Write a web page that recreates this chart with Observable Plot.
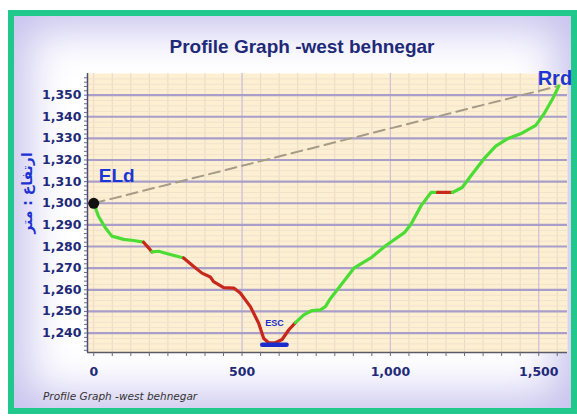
<!DOCTYPE html>
<html>
<head>
<meta charset="utf-8">
<script src="https://cdn.jsdelivr.net/npm/d3@7"></script>
<script src="https://cdn.jsdelivr.net/npm/@observablehq/plot@0.6"></script>
<style>
  html, body { margin: 0; padding: 0; background: #ffffff; }
  #page { position: relative; width: 577px; height: 419px; overflow: hidden; background: #ffffff; }
  #frame { position: absolute; left: 8px; top: 10px; width: 569px; height: 404px; box-sizing: border-box;
           border: 6px solid #20c98b; background: #ffffff;
           box-shadow: inset 0 0 44px 14px #c6c1ed; }
  #chart { position: absolute; left: 0; top: 0; }
  #title { position: absolute; left: 0; width: 604px; top: 36px; text-align: center;
           font: bold 19px "Liberation Sans", Arial, sans-serif; color: #1e2a78; }
  #caption { position: absolute; left: 43px; top: 390px;
             font: italic 10.5px "DejaVu Sans", Verdana, sans-serif; color: #333333; }
  #ytitle { position: absolute; left: 27px; top: 193px; transform: translate(-50%, -50%) rotate(-90deg);
            white-space: nowrap; font: bold 14px "DejaVu Sans", sans-serif; color: #1d30d0; }
</style>
</head>
<body>
<div id="page">
  <div id="frame"></div>
  <div id="chart"></div>
  <div id="title">Profile Graph -west behnegar</div>
  <div id="ytitle" dir="rtl">ارتفاع : متر</div>
  <div id="caption">Profile Graph -west behnegar</div>
</div>
<script>
// ---- data ----
const distance = [0,16,39,61,101,134,168,185,196,219,258,303,337,365,393,404,438,472,494,528,556,573,590,612,635,657,680,708,736,764,781,798,821,877,934,985,1047,1069,1103,1137,1159,1209,1242,1276,1315,1355,1394,1439,1490,1518,1546,1568];
const elevation = [1300,1294,1288.7,1284.8,1283.3,1282.8,1282,1279.4,1277.5,1277.8,1276.3,1274.7,1270.8,1267.7,1265.9,1263.8,1261,1260.8,1258.5,1252.2,1244.5,1237.5,1235.5,1235.5,1237,1241.4,1244.8,1248.4,1250.4,1250.7,1252.2,1256,1260,1270,1274.7,1280.5,1286.4,1290.2,1298.8,1305,1305,1305,1307.3,1313.5,1320.5,1326.4,1329.8,1332.1,1336,1341.4,1348.1,1354.3];
const steepRanges = [[168,196],[303,680],[1159,1209]];
const escZone = [568, 650];
const escElevation = 1234.6;
const xTicks = [0, 500, 1000, 1500];
const yTicks = [1240,1250,1260,1270,1280,1290,1300,1310,1320,1330,1340,1350];
const endLabels = ["ELd", "Rrd"];
const escLabel = "ESC";

const xDomain = [-21, 1597];
const yDomain = [1231, 1360];

const GREEN = "#4cdc36", RED = "#c8281c", NAVY = "#1f2a78", BLUE = "#1b36d4";

// build colored runs
const rows = [];
let seg = -1, prevSteep = null;
for (let i = 0; i < distance.length - 1; i++) {
  const steep = steepRanges.some(([a, b]) => distance[i] >= a && distance[i + 1] <= b);
  if (steep !== prevSteep) {
    seg++;
    rows.push({d: distance[i], e: elevation[i], seg, color: steep ? RED : GREEN});
    prevSteep = steep;
  }
  rows.push({d: distance[i + 1], e: elevation[i + 1], seg, color: steep ? RED : GREEN});
}
const n = distance.length;
const startPt = {d: distance[0], e: elevation[0]};
const endPt = {d: distance[n - 1], e: elevation[n - 1]};

const minorX = d3.range(0, xDomain[1], 62.5);
const minorY = d3.range(1232.5, yDomain[1], 2.5).filter(v => Math.abs(v % 10) > 0.01);
const fmt = d3.format(",");

const chart = Plot.plot({
  width: 577, height: 419,
  marginLeft: 87, marginRight: 10, marginTop: 73, marginBottom: 67,
  style: {background: "transparent", fontFamily: "DejaVu Sans, sans-serif"},
  x: {domain: xDomain, label: null},
  y: {domain: yDomain, label: null},
  color: {type: "identity"},
  marks: [
    Plot.frame({fill: "#fdf0d2", stroke: null}),
    Plot.ruleX(minorX, {stroke: "#ecd7c6", strokeWidth: 1}),
    Plot.ruleY(minorY, {stroke: "#f2e1cc", strokeWidth: 1}),
    Plot.ruleX(xTicks.filter(v => v > 0), {stroke: "#cdc2dc", strokeWidth: 1.2}),
    Plot.ruleY(yTicks, {stroke: "#a99dca", strokeWidth: 2.2}),
    Plot.ruleX([xDomain[0]], {stroke: "#4d4b78", strokeWidth: 1.5}),
    Plot.ruleY([yDomain[0]], {stroke: "#5a5a66", strokeWidth: 1.5}),
    Plot.axisY(d3.range(1232, 1360, 2), {tickSize: 3, text: null, label: null, stroke: "#6a6890"}),
    Plot.axisY(yTicks, {tickSize: 0, tickPadding: 6, tickFormat: fmt, label: null,
      fill: NAVY, fontSize: 12.5, fontWeight: "bold"}),
    Plot.axisX(minorX, {tickSize: 4, text: null, label: null, stroke: "#6a6a72"}),
    Plot.axisX(xTicks, {tickSize: 0, tickPadding: 15, tickFormat: fmt, label: null,
      fill: NAVY, fontSize: 12.5, fontWeight: "bold"}),
    Plot.line([startPt, endPt], {x: "d", y: "e", stroke: "#a49b88", strokeWidth: 2, strokeDasharray: "11,6"}),
    Plot.text([startPt], {x: "d", y: "e", text: () => endLabels[0], dx: 23, dy: -27,
      fill: BLUE, fontSize: 19, fontWeight: "bold", fontFamily: "Liberation Sans, Arial, sans-serif"}),
    Plot.text([endPt], {x: "d", y: "e", text: () => endLabels[1], dx: -4, dy: -7,
      fill: BLUE, fontSize: 20, fontWeight: "bold", fontFamily: "Liberation Sans, Arial, sans-serif"}),
    Plot.line(rows, {x: "d", y: "e", z: "seg", stroke: "color", strokeWidth: 3.2,
      strokeLinejoin: "round", strokeLinecap: "round"}),
    Plot.dot([startPt], {x: "d", y: "e", r: 5.5, fill: "#111111"}),
    Plot.line(escZone.map(d => ({d, e: escElevation})), {x: "d", y: "e", stroke: "#1a2ccc",
      strokeWidth: 4.5, strokeLinecap: "round"}),
    Plot.text([{d: (escZone[0] + escZone[1]) / 2, e: escElevation}], {x: "d", y: "e", text: () => escLabel,
      dy: -22, fill: "#1b2fc8", fontSize: 9, fontWeight: "bold", fontFamily: "Liberation Sans, Arial, sans-serif"})
  ]
});
document.getElementById("chart").appendChild(chart);
</script>
</body>
</html>
